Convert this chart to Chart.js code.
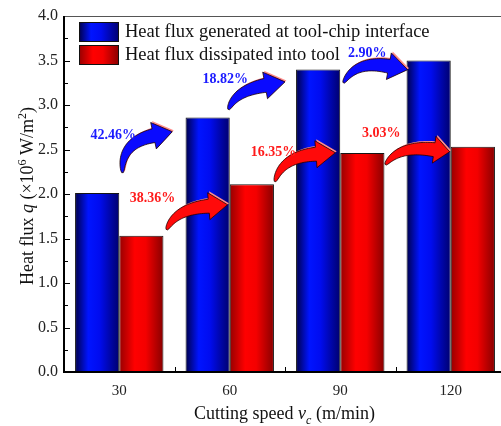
<!DOCTYPE html>
<html>
<head>
<meta charset="utf-8">
<script src="https://cdn.jsdelivr.net/npm/chart.js@4/dist/chart.umd.min.js"></script>
<style>
html, body { margin: 0; padding: 0; overflow: hidden; background: #fff; }
#wrap { width: 508px; height: 426px; }
</style>
</head>
<body>
<div id="wrap"><canvas id="chart" width="508" height="426"></canvas></div>
<script>
// data
const speeds = ['30', '60', '90', '120'];
const generated = [2.01, 2.86, 3.40, 3.50];
const dissipated = [1.53, 2.11, 2.46, 2.53];
const seriesNames = ['Heat flux generated at tool-chip interface', 'Heat flux dissipated into tool'];
const genGrowth = ['42.46%', '18.82%', '2.90%'];
const dissGrowth = ['38.36%', '16.35%', '3.03%'];

// arrow annotations in data units: [category index, value] for tail, neck, tip
const genArrows = [
    { tail: [0.03, 2.24], neck: [0.31, 2.655], tip: [0.48, 2.70], text: [-0.055, 2.66] },
    { tail: [0.99, 2.95], neck: [1.32, 3.22], tip: [1.50, 3.26], text: [0.96, 3.285] },
    { tail: [2.03, 3.25], neck: [2.44, 3.436], tip: [2.61, 3.397], text: [2.245, 3.576] }
];
const dissArrows = [
    { tail: [0.43, 1.60], neck: [0.81, 1.863], tip: [0.98, 1.88], text: [0.30, 1.948] },
    { tail: [1.41, 2.14], neck: [1.78, 2.447], tip: [1.955, 2.464], text: [1.395, 2.464] },
    { tail: [2.41, 2.33], neck: [2.85, 2.498], tip: [2.99, 2.475], text: [2.37, 2.677] }
];

const SERIF = '"Liberation Serif", "Times New Roman", serif';

function barGradient(ctx, x0, x1, which) {
    const g = ctx.createLinearGradient(x0, 0, x1, 0);
    if (which === 0) {
        g.addColorStop(0, '#00004a');
        g.addColorStop(0.3, '#0014ff');
        g.addColorStop(0.55, '#000cf0');
        g.addColorStop(1, '#00006e');
    } else {
        g.addColorStop(0, '#960000');
        g.addColorStop(0.35, '#ff0000');
        g.addColorStop(0.6, '#f40000');
        g.addColorStop(1, '#880000');
    }
    return g;
}

function barFill(which) {
    return function(c) {
        const chart = c.chart;
        const xs = chart.scales && chart.scales.x;
        const solid = which ? '#f00' : '#00f';
        if (!xs || c.dataIndex === undefined) return solid;
        const center = xs.getPixelForValue(c.dataIndex);
        const w = xs.width / speeds.length * 0.8 / 2;
        if (!isFinite(center) || !isFinite(w) || w <= 0) return solid;
        const x0 = which === 0 ? center - w : center;
        return barGradient(chart.ctx, x0, x0 + w, which);
    };
}

function drawArrow(ctx, T, N, H, fill) {
    let dx = H[0] - N[0], dy = H[1] - N[1];
    const dl = Math.hypot(dx, dy);
    dx /= dl; dy /= dl;
    const s = 0.7 * Math.hypot(N[0] - T[0], N[1] - T[1]);
    const C = [N[0] - s * dx, N[1] - s * dy];
    const left = [], right = [];
    const steps = 30;
    for (let i = 0; i <= steps; i++) {
        const t = i / steps;
        const px = (1 - t) * (1 - t) * T[0] + 2 * (1 - t) * t * C[0] + t * t * N[0];
        const py = (1 - t) * (1 - t) * T[1] + 2 * (1 - t) * t * C[1] + t * t * N[1];
        let tx = 2 * (1 - t) * (C[0] - T[0]) + 2 * t * (N[0] - C[0]);
        let ty = 2 * (1 - t) * (C[1] - T[1]) + 2 * t * (N[1] - C[1]);
        const tl = Math.hypot(tx, ty) || 1;
        tx /= tl; ty /= tl;
        const w = 0.8 + 6.2 * Math.pow(t, 0.6);
        left.push([px + ty * w, py - tx * w]);
        right.push([px - ty * w, py + tx * w]);
    }
    const hw = 13.5;
    const path = () => {
        ctx.beginPath();
        ctx.moveTo(left[0][0], left[0][1]);
        left.forEach(p => ctx.lineTo(p[0], p[1]));
        ctx.lineTo(N[0] + dy * hw, N[1] - dx * hw);
        ctx.lineTo(H[0], H[1]);
        ctx.lineTo(N[0] - dy * hw, N[1] + dx * hw);
        for (let i = right.length - 1; i >= 0; i--) ctx.lineTo(right[i][0], right[i][1]);
        ctx.closePath();
    };
    ctx.save();
    ctx.translate(1.4, -1.4);
    path();
    ctx.fillStyle = '#ff8c8c';
    ctx.fill();
    ctx.restore();
    path();
    ctx.fillStyle = fill;
    ctx.fill();
    ctx.lineWidth = 0.8;
    ctx.strokeStyle = '#200000';
    ctx.stroke();
}

function drawRich(ctx, parts, x, y) {
    // parts: [text, style] where style is n, i, sup, sub
    const fontOf = st => st === 'i' ? 'italic 18px ' + SERIF : (st === 'sup' || st === 'sub') ? (st === 'sub' ? 'italic ' : '') + '12px ' + SERIF : '18px ' + SERIF;
    let total = 0;
    parts.forEach(p => { ctx.font = fontOf(p[1]); total += ctx.measureText(p[0]).width; });
    let cx = x - total / 2;
    ctx.textAlign = 'left';
    ctx.textBaseline = 'alphabetic';
    parts.forEach(p => {
        ctx.font = fontOf(p[1]);
        const dy = p[1] === 'sup' ? -7 : p[1] === 'sub' ? 5 : 0;
        ctx.fillText(p[0], cx, y + dy);
        cx += ctx.measureText(p[0]).width;
    });
}

const decorations = {
    id: 'decorations',
    afterDatasetsDraw(chart) {
        const ctx = chart.ctx;
        const xs = chart.scales.x, ys = chart.scales.y;
        const a = chart.chartArea;
        const pt = d => [xs.getPixelForValue(0) + d[0] * (xs.getPixelForValue(1) - xs.getPixelForValue(0)), ys.getPixelForValue(d[1])];

        ctx.save();
        // frame
        ctx.strokeStyle = '#555';
        ctx.lineWidth = 1;
        ctx.beginPath();
        ctx.moveTo(a.left, a.top + 0.5);
        ctx.lineTo(a.right, a.top + 0.5);
        ctx.lineTo(a.right, a.bottom);
        ctx.stroke();
        ctx.strokeStyle = '#000';
        ctx.lineWidth = 2;
        ctx.beginPath();
        ctx.moveTo(a.left, a.top);
        ctx.lineTo(a.left, a.bottom);
        ctx.lineTo(a.right, a.bottom);
        ctx.stroke();

        // y ticks pointing inward, minor every 0.25
        ctx.lineWidth = 1;
        for (let v = 0.25; v < 4; v += 0.25) {
            const y = Math.round(ys.getPixelForValue(v)) + 0.5;
            const len = Math.abs(v * 2 - Math.round(v * 2)) < 1e-6 ? 5 : 3;
            ctx.beginPath();
            ctx.moveTo(a.left, y);
            ctx.lineTo(a.left + 1 + len, y);
            ctx.stroke();
        }
        // x ticks between categories
        const step = xs.getPixelForValue(1) - xs.getPixelForValue(0);
        for (let i = 0; i < speeds.length - 1; i++) {
            const x = Math.round(xs.getPixelForValue(i) + step / 2) + 0.5;
            ctx.beginPath();
            ctx.moveTo(x, a.bottom);
            ctx.lineTo(x, a.bottom - 5);
            ctx.stroke();
        }

        // growth arrows and labels
        genArrows.forEach(ar => drawArrow(ctx, pt(ar.tail), pt(ar.neck), pt(ar.tip), '#0a0aff'));
        dissArrows.forEach(ar => drawArrow(ctx, pt(ar.tail), pt(ar.neck), pt(ar.tip), '#ff0a0a'));
        ctx.font = 'bold 14px ' + SERIF;
        ctx.textAlign = 'center';
        ctx.textBaseline = 'middle';
        genArrows.forEach((ar, i) => {
            const p = pt(ar.text);
            ctx.fillStyle = '#1a1aff';
            ctx.fillText(genGrowth[i], p[0], p[1]);
        });
        dissArrows.forEach((ar, i) => {
            const p = pt(ar.text);
            ctx.fillStyle = '#ff1a1a';
            ctx.fillText(dissGrowth[i], p[0], p[1]);
        });

        // legend
        seriesNames.forEach((name, i) => {
            const bx = a.left + 15, by = a.top + 6 + i * 23;
            ctx.fillStyle = barGradient(ctx, bx, bx + 40, i);
            ctx.fillRect(bx, by, 40, 20);
            ctx.strokeStyle = '#111';
            ctx.lineWidth = 1;
            ctx.strokeRect(bx + 0.5, by + 0.5, 39, 19);
            ctx.fillStyle = '#111';
            ctx.font = '18.5px ' + SERIF;
            ctx.textAlign = 'left';
            ctx.textBaseline = 'middle';
            ctx.fillText(name, bx + 46, by + 10);
        });

        // axis titles
        ctx.fillStyle = '#111';
        drawRich(ctx, [['Cutting speed ', 'n'], ['v', 'i'], ['c', 'sub'], [' (m/min)', 'n']], 284.5, 419);
        ctx.save();
        ctx.translate(33, (a.top + a.bottom) / 2 + 2);
        ctx.rotate(-Math.PI / 2);
        drawRich(ctx, [['Heat flux ', 'n'], ['q', 'i'], [' (\u00d710', 'n'], ['6', 'sup'], [' W/m', 'n'], ['2', 'sup'], [')', 'n']], 0, 0);
        ctx.restore();
        ctx.restore();
    }
};

new Chart(document.getElementById('chart'), {
    type: 'bar',
    data: {
        labels: speeds,
        datasets: [
            { label: seriesNames[0], data: generated, backgroundColor: barFill(0), borderColor: '#151515', borderWidth: 1 },
            { label: seriesNames[1], data: dissipated, backgroundColor: barFill(1), borderColor: '#151515', borderWidth: 1 }
        ]
    },
    options: {
        responsive: false,
        animation: false,
        devicePixelRatio: 1,
        layout: { padding: { top: 16, right: 2, left: 0, bottom: 0 } },
        plugins: { legend: { display: false }, tooltip: { enabled: false } },
        datasets: { bar: { categoryPercentage: 0.8, barPercentage: 1.0 } },
        scales: {
            x: {
                grid: { display: false, drawTicks: false },
                border: { display: false },
                ticks: { color: '#222', font: { family: SERIF, size: 15 }, padding: 10 },
                afterFit: s => { s.height = 54; }
            },
            y: {
                min: 0, max: 4,
                grid: { display: false, drawTicks: false },
                border: { display: false },
                ticks: { stepSize: 0.5, color: '#222', font: { family: SERIF, size: 16 }, padding: 6,
                    callback: v => v.toFixed(1) },
                afterFit: s => { s.width = 64; }
            }
        }
    },
    plugins: [decorations]
});
</script>
</body>
</html>
